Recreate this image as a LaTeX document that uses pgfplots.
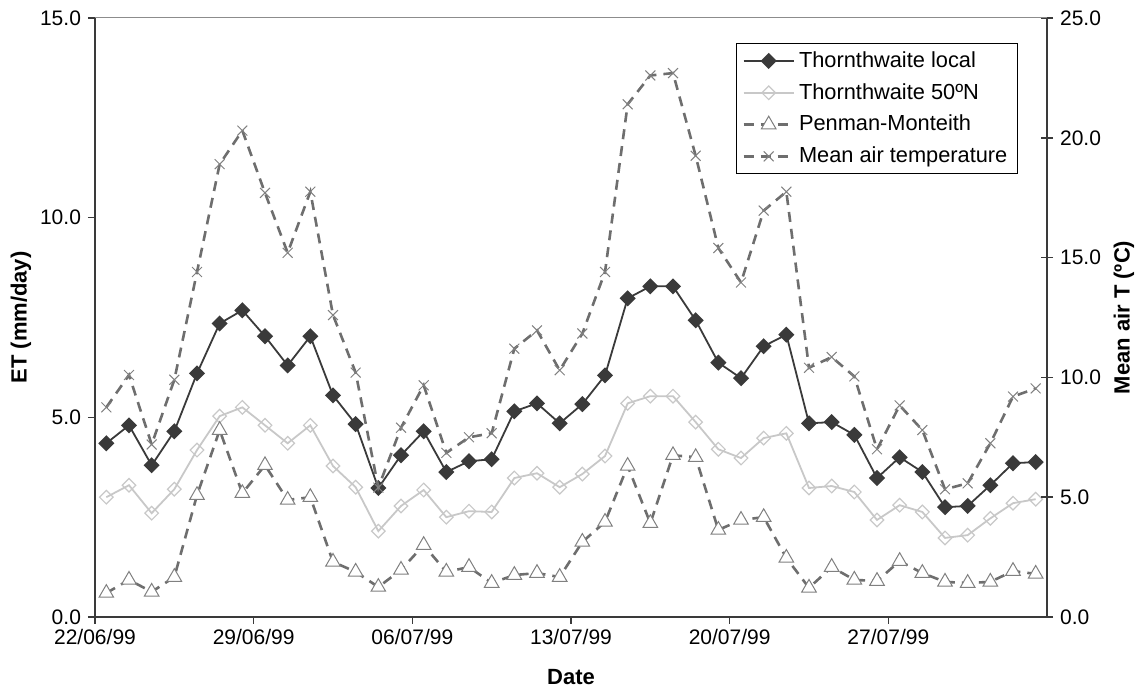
\documentclass[border=0pt]{standalone}
\usepackage{pgfplots}
\pgfplotsset{compat=1.18}
\usepackage{pgfplotstable}
\usepackage{fontspec}
\setmainfont{Liberation Sans}
\definecolor{dk}{HTML}{3A3A3A}
\definecolor{lt}{HTML}{C8C8C8}
\definecolor{md}{HTML}{6E6E6E}
\definecolor{mk}{HTML}{808080}

\pgfplotstableread{
x local n50 pm temp
0.5 4.35 3.00 0.60 8.75
1.5 4.80 3.30 0.93 10.1
2.5 3.80 2.60 0.63 7.2
3.5 4.65 3.20 1.00 9.9
4.5 6.10 4.18 3.05 14.4
5.5 7.35 5.03 4.68 18.9
6.5 7.68 5.25 3.10 20.3
7.5 7.03 4.80 3.80 17.7
8.5 6.30 4.35 2.93 15.2
9.5 7.03 4.80 3.00 17.75
10.5 5.55 3.78 1.38 12.6
11.5 4.83 3.25 1.13 10.2
12.5 3.23 2.15 0.75 5.4
13.5 4.05 2.78 1.18 7.9
14.5 4.65 3.18 1.80 9.67
15.5 3.63 2.50 1.13 6.85
16.5 3.90 2.65 1.25 7.5
17.5 3.95 2.63 0.85 7.67
18.5 5.15 3.48 1.05 11.2
19.5 5.35 3.60 1.10 11.96
20.5 4.85 3.25 1.00 10.3
21.5 5.33 3.58 1.88 11.83
22.5 6.05 4.03 2.38 14.4
23.5 7.98 5.35 3.78 21.4
24.5 8.28 5.53 2.35 22.6
25.5 8.28 5.53 4.05 22.7
26.5 7.43 4.88 4.00 19.25
27.5 6.37 4.20 2.18 15.4
28.5 5.98 3.98 2.43 13.96
29.5 6.78 4.48 2.50 16.96
30.5 7.07 4.60 1.48 17.75
31.5 4.85 3.23 0.73 10.4
32.5 4.88 3.28 1.25 10.85
33.5 4.56 3.13 0.93 10.04
34.5 3.48 2.43 0.90 7.0
35.5 4.00 2.80 1.40 8.83
36.5 3.63 2.63 1.10 7.8
37.5 2.75 1.98 0.88 5.33
38.5 2.78 2.05 0.85 5.58
39.5 3.30 2.47 0.88 7.25
40.5 3.85 2.85 1.15 9.2
41.5 3.88 2.95 1.08 9.54
}\data

\pgfplotsset{
 localstyle/.style={color=dk, line width=0.9pt, mark=square*, mark size=2.4pt, mark options={rotate=45, fill=dk, solid}},
 nstyle/.style={color=lt, line width=0.9pt, mark=square, mark size=2.4pt, mark options={rotate=45, solid, line width=0.6pt}},
 pmstyle/.style={color=md, line width=1.3pt, dash pattern=on 5pt off 3.5pt, mark=triangle*, mark size=4.2pt, mark options={solid, draw=mk, fill=white, line width=0.5pt}},
 tstyle/.style={color=md, line width=1.3pt, dash pattern=on 5pt off 3.5pt, mark=x, mark size=3.5pt, mark options={solid, draw=mk, line width=0.5pt}},
}

\begin{document}
\begin{tikzpicture}
\useasboundingbox (-47.5pt,-35.5pt) rectangle (521.5pt,308.5pt);
\begin{axis}[
 scale only axis, width=476pt, height=299.5pt,
 xmin=0, xmax=42, ymin=0, ymax=15,
 axis x line*=bottom, axis y line*=left,
 axis line style={dk, line width=1pt},
 xtick={0,7,14,21,28,35},
 xticklabels={22/06/99,29/06/99,06/07/99,13/07/99,20/07/99,27/07/99},
 ytick={0,5,10,15}, yticklabels={0.0,5.0,10.0,15.0},
 tick align=outside, major tick length=3.5pt, tick style={dk, line width=0.8pt},
 ticklabel style={font=\fontsize{10.5}{12}\selectfont},
 xticklabel style={yshift=1pt},
 xlabel={Date}, ylabel={ET (mm/day)},
 label style={font=\fontsize{11}{13}\selectfont\bfseries},
 xlabel style={at={([yshift=-30pt]axis description cs:0.5,0)}, anchor=center},
 ylabel style={at={([xshift=-37pt]axis description cs:0,0.5)}, anchor=center},
]
\addplot[nstyle] table[x=x,y=n50]{\data};
\addplot[pmstyle] table[x=x,y=pm]{\data};
\addplot[localstyle] table[x=x,y=local]{\data};
\end{axis}
\begin{axis}[
 scale only axis, width=476pt, height=299.5pt,
 xmin=0, xmax=42, ymin=0, ymax=25,
 axis x line*=top, axis y line*=right,
 x axis line style={color=black!45, line width=0.5pt},
 y axis line style={dk, line width=1pt},
 xtick=\empty,
 ytick={0,5,10,15,20,25}, yticklabels={0.0,5.0,10.0,15.0,20.0,25.0},
 tick align=center, major tick length=6pt, tick style={dk, line width=0.8pt},
 ticklabel style={font=\fontsize{10.5}{12}\selectfont},
 ylabel={Mean air T (ºC)},
 label style={font=\fontsize{11}{13}\selectfont\bfseries},
 ylabel style={at={([xshift=38.5pt]axis description cs:1,0.5)}, anchor=center},
 legend image code/.code={\draw[mark repeat=2,mark phase=2,#1] plot coordinates {(0pt,0pt) (12.5pt,0pt) (25pt,0pt)};},
 legend cell align=left,
 legend style={at={(1,1)}, anchor=north east, xshift=-14.5pt, yshift=-12.5pt,
   draw=black, line width=0.6pt, fill=white,
   font=\fontsize{10.9}{13}\selectfont, inner xsep=3pt, inner ysep=2pt, row sep=2.5pt},
]
\addlegendimage{localstyle}\addlegendentry{Thornthwaite local}
\addlegendimage{nstyle}\addlegendentry{Thornthwaite 50ºN}
\addlegendimage{pmstyle}\addlegendentry{Penman-Monteith}
\addplot[tstyle] table[x=x,y=temp]{\data};
\addlegendentry{Mean air temperature}
\end{axis}
\end{tikzpicture}
\end{document}
